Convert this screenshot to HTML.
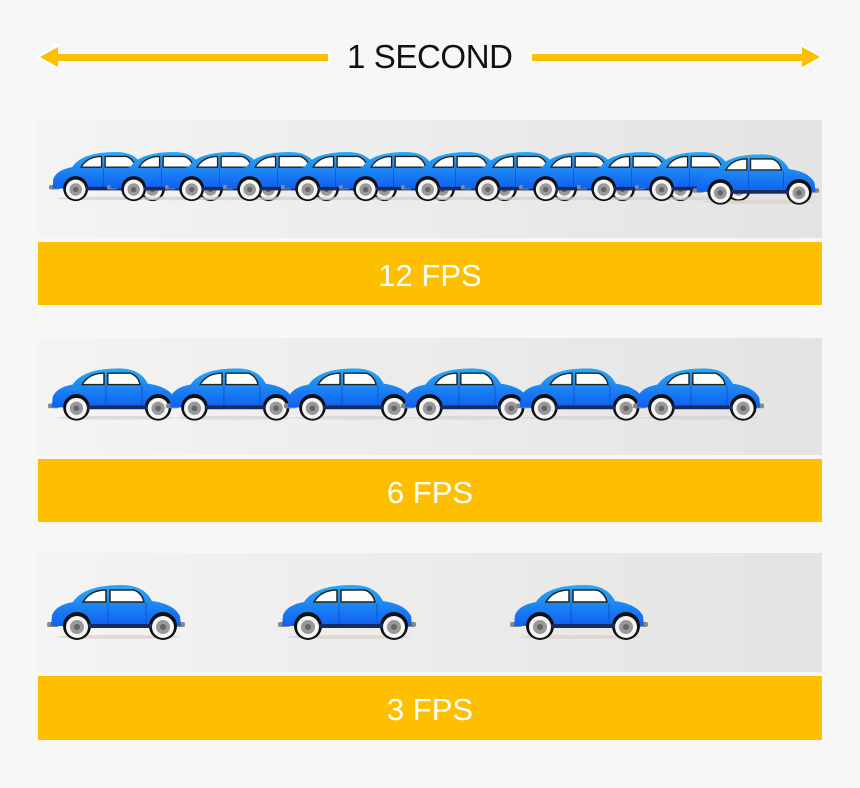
<!DOCTYPE html>
<html><head><style>
body{margin:0;background:#f7f7f7;width:860px;height:783px;overflow:hidden;font-family:"Liberation Sans",sans-serif}
</style></head><body>
<svg width="860" height="783" viewBox="0 0 860 783" xmlns="http://www.w3.org/2000/svg">
<defs>
<linearGradient id="pg" x1="0" x2="1"><stop offset="0" stop-color="#f4f4f4"/><stop offset="1" stop-color="#e3e3e3"/></linearGradient>
<linearGradient id="cg" x1="0" y1="0" x2="0" y2="1"><stop offset="0" stop-color="#28aaf5"/><stop offset="1" stop-color="#1060f2"/></linearGradient>
<symbol id="car" viewBox="0 0 140 58">
<ellipse cx="72" cy="53" rx="62" ry="2" fill="#d8d0c8" opacity="0.7"/>
<rect x="1" y="38" width="12" height="5" rx="2" fill="#888"/>
<rect x="128" y="38" width="11" height="5" rx="2" fill="#888"/>
<path d="M5,42 L6,31 Q10,21 27,18 Q38,1 76,1 Q98,1 106,17 Q128,20 134,32 L135,42 Z" fill="url(#cg)"/>
<path d="M37,18 Q44,6 60,6 L60,18 Z" fill="#fff" stroke="#222" stroke-width="1.5"/>
<path d="M64,6 L88,6 Q96,9 98,18 L64,18 Z" fill="#fff" stroke="#222" stroke-width="1.5"/>
<line x1="62" y1="19" x2="62" y2="42" stroke="#0a4fbf" stroke-width="0.8"/>
<line x1="100" y1="19" x2="100" y2="42" stroke="#0a4fbf" stroke-width="0.8"/>
<circle cx="31" cy="42" r="14" fill="#111"/>
<circle cx="117" cy="42" r="14" fill="#111"/>
<rect x="30" y="40" width="88" height="4" fill="#1a2a5a"/>
<circle cx="31" cy="43" r="11" fill="#f4f4f4"/><circle cx="31" cy="43" r="7" fill="#999"/><circle cx="31" cy="43" r="3" fill="#666"/>
<circle cx="117" cy="43" r="11" fill="#f4f4f4"/><circle cx="117" cy="43" r="7" fill="#999"/><circle cx="117" cy="43" r="3" fill="#666"/>
</symbol>
</defs>
<g>
<rect x="48" y="52" width="283" height="11" fill="#fff"/>
<polygon points="36,57 58,44 58,70" fill="#fff"/>
<rect x="50" y="54" width="278" height="7" fill="#fcbf00"/>
<polygon points="40,57 58,47 58,67" fill="#fcbf00"/>
<rect x="529" y="52" width="283" height="11" fill="#fff"/>
<polygon points="824,57 802,44 802,70" fill="#fff"/>
<rect x="532" y="54" width="278" height="7" fill="#fcbf00"/>
<polygon points="820,57 802,47 802,67" fill="#fcbf00"/>
<text x="430" y="68" text-anchor="middle" font-size="33" font-family="Liberation Sans, sans-serif" fill="#111" textLength="166">1 SECOND</text>
</g>
<rect x="38" y="120" width="784" height="118" fill="url(#pg)"/>
<rect x="38" y="242" width="784" height="63" fill="#fdbf00"/>
<text x="430" y="286" text-anchor="middle" font-size="31" fill="#fff">12 FPS</text>
<rect x="38" y="338" width="784" height="117" fill="url(#pg)"/>
<rect x="38" y="459" width="784" height="63" fill="#fdbf00"/>
<text x="430" y="503" text-anchor="middle" font-size="31" fill="#fff">6 FPS</text>
<rect x="38" y="553" width="784" height="119" fill="url(#pg)"/>
<rect x="38" y="676" width="784" height="64" fill="#fdbf00"/>
<text x="430" y="720" text-anchor="middle" font-size="31" fill="#fff">3 FPS</text>
<use href="#car" x="48" y="150" width="125" height="54"/>
<use href="#car" x="106" y="150" width="125" height="54"/>
<use href="#car" x="164" y="150" width="125" height="54"/>
<use href="#car" x="222" y="150" width="125" height="54"/>
<use href="#car" x="280" y="150" width="125" height="54"/>
<use href="#car" x="338" y="150" width="125" height="54"/>
<use href="#car" x="400" y="150" width="125" height="54"/>
<use href="#car" x="460" y="150" width="125" height="54"/>
<use href="#car" x="518" y="150" width="125" height="54"/>
<use href="#car" x="576" y="150" width="125" height="54"/>
<use href="#car" x="634" y="150" width="125" height="54"/>
<use href="#car" x="692" y="152" width="128" height="56"/>
<use href="#car" x="47" y="366" width="133" height="58"/>
<use href="#car" x="165" y="366" width="133" height="58"/>
<use href="#car" x="283" y="366" width="133" height="58"/>
<use href="#car" x="400" y="366" width="133" height="58"/>
<use href="#car" x="515" y="366" width="133" height="58"/>
<use href="#car" x="632" y="366" width="133" height="58"/>
<use href="#car" x="46" y="583" width="140" height="60"/>
<use href="#car" x="277" y="583" width="140" height="60"/>
<use href="#car" x="509" y="583" width="140" height="60"/>
</svg>
</body></html>
